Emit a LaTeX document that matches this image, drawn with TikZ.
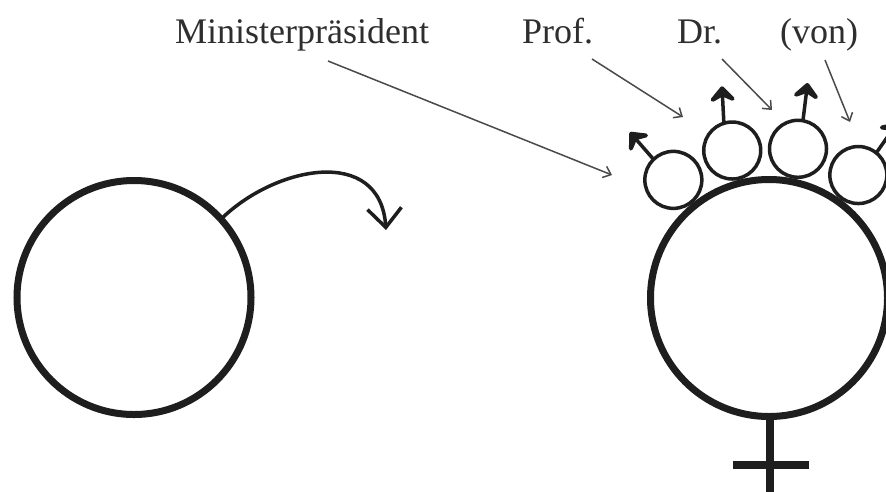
\documentclass[tikz,border=0pt]{standalone}
\usepackage{fontspec}
\setmainfont{Liberation Serif}
\usetikzlibrary{arrows.meta,calc}

\definecolor{ink}{HTML}{1E1E1E}
\definecolor{pointer}{HTML}{4A4A4A}
\definecolor{labelink}{HTML}{2E2E2E}

\tikzset{
  bigring/.style={circle, draw=ink, line width=7pt, outer sep=0pt, inner sep=0pt, minimum size=#1},
  smallring/.style={circle, draw=ink, line width=3.5pt, outer sep=0pt, inner sep=0pt, minimum size=57pt},
  maleshaft/.style={draw=ink, line width=3.5pt},
  maletip/.pic={\filldraw[ink, line width=4pt, line join=round, line cap=round]
      (-11,10) -- (0,0) -- (-11,-10) -- (-6,0) -- cycle;},
  swoosh/.style={draw=ink, line width=3.5pt, -{Straight Barb[length=19pt,width=34pt]}},
  pointer/.style={draw=pointer, line width=1.5pt, -{Straight Barb[length=7pt,width=12pt]}},
  titlelabel/.style={text=labelink, inner sep=0pt, anchor=base west, font=\fontsize{36}{40}\selectfont},
  crossbar/.style={draw=ink, line width=7.5pt},
}

\begin{document}
\begin{tikzpicture}[x=1pt,y=1pt]
  \useasboundingbox (0,-491) rectangle (886,0);
  \clip (0,-491) rectangle (886,0);
  \fill[white] (0,-491) rectangle (886,0);

  % left ring with its curled arrow
  \node[bigring=234pt] (L) at (134,-297.5) {};
  \coordinate (Ltip) at (386,-230);
  \draw[swoosh] (L.42) .. controls (275,-166) and (380,-145) .. (Ltip);

  % right ring with the cross below
  \node[bigring=237pt] (R) at (769,-298) {};
  \coordinate (crossEnd) at (770,-495);
  \coordinate (barL) at (733,-465);
  \coordinate (barR) at (809,-465);
  \draw[crossbar] (770,-415) -- (crossEnd);
  \draw[crossbar] (barL) -- (barR);

  % four small rings sitting on the big ring
  \node[smallring] (s1) at ($(R)+(129:152)$) {};
  \node[smallring] (s2) at ($(R)+(104:152)$) {};
  \node[smallring] (s3) at ($(R)+(79:152)$) {};
  \node[smallring] (s4) at ($(R)+(54:152)$) {};

  % their arrows: shaft plus chevron head
  \coordinate (t1) at ($(s1.134)+(131:34)$);
  \coordinate (t2) at ($(s2.107)+(93:35)$);
  \coordinate (t3) at ($(s3.80)+(83:36)$);
  \coordinate (t4) at ($(s4.51)+(55:35)$);
  \draw[maleshaft] (s1.134) -- (t1);
  \draw[maleshaft] (s2.107) -- (t2);
  \draw[maleshaft] (s3.80) -- (t3);
  \draw[maleshaft] (s4.51) -- (t4);
  \pic[rotate=131] at (t1) {maletip};
  \pic[rotate=93] at (t2) {maletip};
  \pic[rotate=83] at (t3) {maletip};
  \pic[rotate=55] at (t4) {maletip};

  % titles
  \node[titlelabel] (mp) at (175,-43) {Ministerpräsident};
  \node[titlelabel] (prof) at (522,-43) {Prof.};
  \node[titlelabel] (dr) at (677,-43) {Dr.};
  \node[titlelabel] (von) at (780,-43) {(von)};

  \coordinate (mpA) at (328,-61);
  \coordinate (mpB) at (612,-175);
  \coordinate (profA) at (592,-59);
  \coordinate (profB) at (683,-117);
  \coordinate (drA) at (722,-59);
  \coordinate (drB) at (772,-110);
  \coordinate (vonA) at (825,-60);
  \coordinate (vonB) at (850,-122);

  \draw[pointer] (mpA) -- (mpB);
  \draw[pointer] (profA) -- (profB);
  \draw[pointer] (drA) -- (drB);
  \draw[pointer] (vonA) -- (vonB);
\end{tikzpicture}
\end{document}
